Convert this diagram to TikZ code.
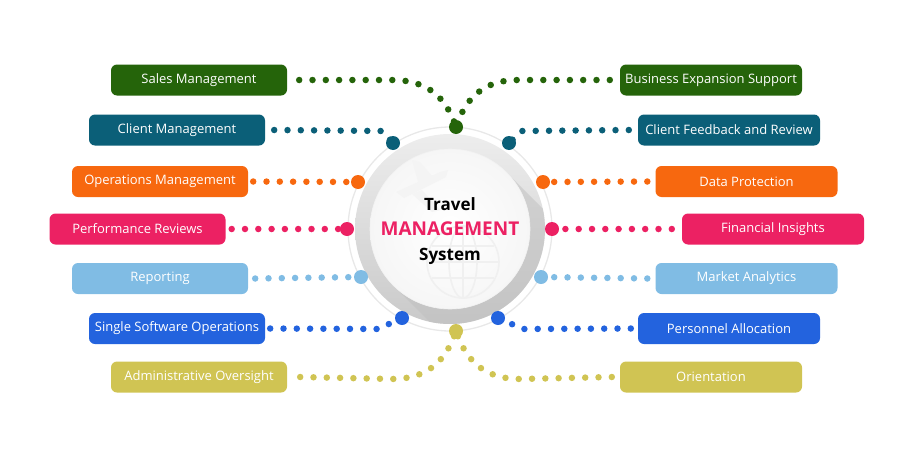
\documentclass[tikz,border=0pt]{standalone}
\usepackage{fontspec}
\setmainfont{Open Sans}
\usetikzlibrary{positioning,calc}
\definecolor{tgreen}{HTML}{25640A}
\definecolor{tteal}{HTML}{0B5F78}
\definecolor{torange}{HTML}{F7680F}
\definecolor{tpink}{HTML}{EC2163}
\definecolor{tsky}{HTML}{80BCE4}
\definecolor{tblue}{HTML}{2363DE}
\definecolor{tyellow}{HTML}{D0C453}

\begin{document}
\begin{tikzpicture}[x=1pt, y=-1pt, font=\fontsize{13}{15}\selectfont,
  box/.style={rounded corners=6pt, minimum height=31pt, text=white, inner sep=0pt, align=center},
  lbox/.style={box, minimum width=176pt}, rbox/.style={box, minimum width=182pt},
  dots/.style={line width=6.5pt, line cap=round, dash pattern=on 0pt off 13.3pt},
  bigdot/.style={circle, inner sep=0pt, minimum size=14pt}]
\useasboundingbox (0,0) rectangle (900,450);
\coordinate (hub) at (450,229);
% central disc
\draw[gray!18, line width=1.3pt] (hub) circle[radius=102pt];
\begin{scope}
  \clip (hub) circle[radius=95pt];
  \shade[top color=gray!14, bottom color=gray!42] (hub) circle[radius=95pt];
  \fill[gray!50, opacity=0.5] ($(hub)+(56.6,-56.6)$) -- ($(hub)+(-56.6,56.6)$) -- ++(120,120) -- ($(hub)+(176.6,63.4)$) -- cycle;
\end{scope}
\shade[inner color=white, outer color=gray!7] (hub) circle[radius=80pt];
\draw[gray!10, line width=0.6pt] (hub) circle[radius=80pt];
% faint watermark: plane and globe
\begin{scope}[gray!9]
  \fill (396,192) -- (440,172) -- (448,170) -- (446,177) -- (404,198) -- cycle;
  \fill (418,182) -- (412,160) -- (420,162) -- (434,178) -- cycle;
  \fill (422,190) -- (440,210) -- (432,212) -- (412,194) -- cycle;
\end{scope}
\begin{scope}[gray!12, line width=1.6pt]
  \draw (463,262) circle[radius=36pt];
  \draw (463,262) ellipse[x radius=14pt, y radius=36pt];
  \draw (427,262) -- (499,262);
  \draw (432,246) -- (494,246);
  \draw (432,278) -- (494,278);
  \draw (463,226) -- (463,298);
\end{scope}
\node[align=center, font=\bfseries\fontsize{17}{25}\selectfont] (title) at (450,231)
  {Travel\\{\color{tpink}\fontsize{19}{25}\selectfont MANAGEMENT}\\System};
% left boxes
\node[lbox, fill=tgreen] (sales) at (199,80) {Sales Management};
\node[lbox, fill=tteal] (client) at (177,130) {Client Management};
\node[lbox, fill=torange] (ops) at (160,181.5) {Operations Management};
\node[lbox, fill=tpink] (perf) at (137.5,229) {Performance Reviews};
\node[lbox, fill=tsky] (report) at (160,278.5) {Reporting};
\node[lbox, fill=tblue] (single) at (177,328.5) {Single Software Operations};
\node[lbox, fill=tyellow] (admin) at (199,377) {Administrative Oversight};
% right boxes
\node[rbox, fill=tgreen] (expand) at (711,80) {Business Expansion Support};
\node[rbox, fill=tteal] (feedback) at (729,130) {Client Feedback and Review};
\node[rbox, fill=torange] (dataprot) at (746.5,181.5) {Data Protection};
\node[rbox, fill=tpink] (finance) at (773,229) {Financial Insights};
\node[rbox, fill=tsky] (market) at (746.5,278.5) {Market Analytics};
\node[rbox, fill=tblue] (personnel) at (729,328.5) {Personnel Allocation};
\node[rbox, fill=tyellow] (orient) at (711,377) {Orientation};
% dots on the ring
\coordinate (dTop) at (456,127);
\coordinate (dBot) at (456,331);
\coordinate (dClientL) at (393,143);
\coordinate (dClientR) at (509,143);
\coordinate (dOpsL) at (358,182);
\coordinate (dOpsR) at (543,182);
\coordinate (dPerfL) at (347,229);
\coordinate (dPerfR) at (552,229);
\coordinate (dRepL) at (361,277);
\coordinate (dRepR) at (541,277);
\coordinate (dSingleL) at (402,318);
\coordinate (dSingleR) at (498,318);
% dotted connectors
\draw[dots, tgreen] ([xshift=12pt]sales.east) -- (392,80) .. controls (430,80) and (447,100) .. (dTop);
\draw[dots, tgreen] ([xshift=-10pt]expand.west) -- (518,80) .. controls (482,80) and (465,100) .. (dTop);
\draw[dots, tteal] ([xshift=9pt]client.east) -- (382,131) -- (dClientL);
\draw[dots, tteal] ([xshift=-9pt]feedback.west) -- (522,131) -- (dClientR);
\draw[dots, torange] ([xshift=5pt]ops.east) -- (dOpsL);
\draw[dots, torange] ([xshift=-8pt]dataprot.west) -- (dOpsR);
\draw[dots, tpink] ([xshift=6pt]perf.east) -- (dPerfL);
\draw[dots, tpink] ([xshift=-10pt]finance.west) -- (dPerfR);
\draw[dots, tsky] ([xshift=7pt]report.east) -- (dRepL);
\draw[dots, tsky] ([xshift=-8pt]market.west) -- (dRepR);
\draw[dots, tblue] ([xshift=5pt]single.east) -- (378,329) -- (dSingleL);
\draw[dots, tblue] ([xshift=-7pt]personnel.west) -- (523,329) -- (dSingleR);
\draw[dots, tyellow] ([xshift=13pt]admin.east) -- (392,379) .. controls (430,379) and (447,358) .. (dBot);
\draw[dots, tyellow] ([xshift=-8pt]orient.west) -- (520,379) .. controls (482,379) and (465,358) .. (dBot);
% big dots
\node[bigdot, fill=tgreen] (topdot) at (dTop) {};
\node[bigdot, fill=tyellow] (botdot) at (dBot) {};
\node[bigdot, fill=tteal] at (dClientL) {};
\node[bigdot, fill=tteal] at (dClientR) {};
\node[bigdot, fill=torange] at (dOpsL) {};
\node[bigdot, fill=torange] at (dOpsR) {};
\node[bigdot, fill=tpink] at (dPerfL) {};
\node[bigdot, fill=tpink] at (dPerfR) {};
\node[bigdot, fill=tsky] at (dRepL) {};
\node[bigdot, fill=tsky] at (dRepR) {};
\node[bigdot, fill=tblue] at (dSingleL) {};
\node[bigdot, fill=tblue] at (dSingleR) {};
\end{tikzpicture}
\end{document}
